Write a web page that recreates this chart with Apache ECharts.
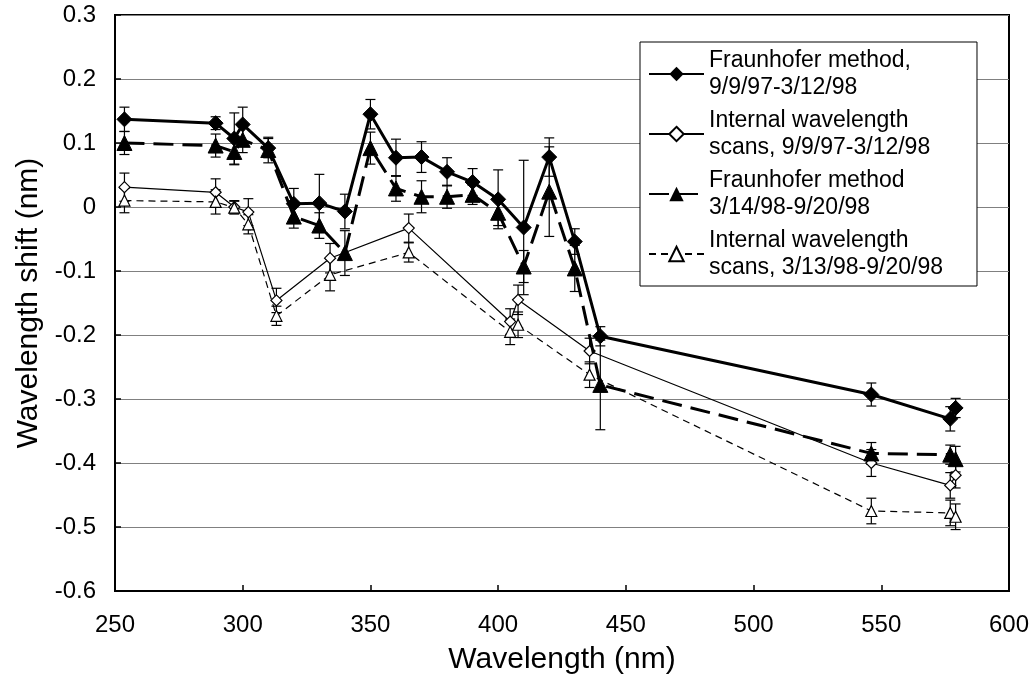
<!DOCTYPE html>
<html><head><meta charset="utf-8">
<script src="https://cdn.jsdelivr.net/npm/echarts@6/dist/echarts.min.js"></script>
<style>html,body{margin:0;padding:0;background:#fff}#c{width:1034px;height:690px}</style>
</head><body><div id="c"></div>
<script>
// Fraunhofer method wavelengths (nm)
const wlFraun = [253.7, 289.4, 296.7, 300, 310, 320, 330, 340, 350, 360, 370, 380, 390, 400, 410, 420, 430, 440, 546.1, 577.0, 579.1];
// Fraunhofer 9/9/97-3/12/98
const fraun1 = [0.137, 0.131, 0.107, 0.129, 0.092, 0.005, 0.006, -0.007, 0.145, 0.077, 0.078, 0.055, 0.039, 0.012, -0.032, 0.078, -0.054, -0.202, -0.293, -0.331, -0.314];
const fraun1Err = [0.019, 0.010, 0.040, 0.027, 0.015, 0.024, 0.045, 0.027, 0.023, 0.029, 0.024, 0.022, 0.021, 0.046, 0.105, 0.030, 0.020, 0.015, 0.018, 0.019, 0.015];
// Fraunhofer 3/14/98-9/20/98
const fraun2 = [0.100, 0.096, 0.086, 0.105, 0.089, -0.015, -0.029, -0.072, 0.092, 0.029, 0.016, 0.016, 0.019, -0.009, -0.093, 0.024, -0.096, -0.278, -0.385, -0.387, -0.394];
const fraun2Err = [0.018, 0.018, 0.020, 0.020, 0.020, 0.018, 0.020, 0.035, 0.025, 0.020, 0.025, 0.018, 0.015, 0.020, 0.025, 0.070, 0.036, 0.070, 0.017, 0.015, 0.020];
// Internal scan (Hg line) wavelengths (nm)
const wlHg = [253.7, 289.4, 296.7, 302.2, 313.2, 334.2, 365.0, 404.7, 407.8, 435.8, 546.1, 577.0, 579.1];
// Internal wavelength scans 9/9/97-3/12/98
const int1 = [0.031, 0.023, 0.000, -0.008, -0.146, -0.080, -0.033, -0.179, -0.145, -0.225, -0.400, -0.435, -0.419];
const int1Err = [0.022, 0.021, 0.010, 0.021, 0.019, 0.023, 0.022, 0.020, 0.023, 0.020, 0.021, 0.020, 0.020];
// Internal wavelength scans 3/13/98-9/20/98
const int2 = [0.010, 0.008, -0.001, -0.027, -0.170, -0.106, -0.071, -0.195, -0.184, -0.262, -0.475, -0.478, -0.484];
const int2Err = [0.019, 0.019, 0.010, 0.015, 0.015, 0.025, 0.015, 0.020, 0.020, 0.020, 0.020, 0.020, 0.020];

const seriesNames = [
  'Fraunhofer method,\n9/9/97-3/12/98',
  'Internal wavelength\nscans, 9/9/97-3/12/98',
  'Fraunhofer method\n3/14/98-9/20/98',
  'Internal wavelength\nscans, 3/13/98-9/20/98'
];

const FONT = '"Liberation Sans", Arial, sans-serif';
const LH = 27;

function pairs(xs, ys) { return xs.map((x, i) => [x, ys[i]]); }
function errData(xs, ys, es) { return xs.map((x, i) => [x, ys[i] - es[i], ys[i] + es[i]]); }

function errSeries(xs, ys, es) {
  return {
    type: 'custom',
    silent: true,
    z: 1,
    data: errData(xs, ys, es),
    renderItem: function (params, api) {
      const lo = api.coord([api.value(0), api.value(1)]);
      const hi = api.coord([api.value(0), api.value(2)]);
      const w = 5;
      const st = { stroke: '#000', lineWidth: 1.2 };
      return { type: 'group', children: [
        { type: 'line', shape: { x1: lo[0], y1: lo[1], x2: hi[0], y2: hi[1] }, style: st },
        { type: 'line', shape: { x1: lo[0] - w, y1: lo[1], x2: lo[0] + w, y2: lo[1] }, style: st },
        { type: 'line', shape: { x1: hi[0] - w, y1: hi[1], x2: hi[0] + w, y2: hi[1] }, style: st }
      ]};
    }
  };
}

const chart = echarts.init(document.getElementById('c'), null, { renderer: 'canvas' });
chart.setOption({
  animation: false,
  backgroundColor: '#fff',
  grid: { left: 115, top: 15, right: 25, bottom: 99, show: true, borderColor: '#000', borderWidth: 2, backgroundColor: 'transparent' },
  xAxis: {
    type: 'value', min: 250, max: 600, interval: 50,
    name: 'Wavelength (nm)', nameLocation: 'middle', nameGap: 54,
    nameTextStyle: { fontFamily: FONT, fontSize: 30, color: '#000' },
    axisLine: { show: true, onZero: false, lineStyle: { color: '#000', width: 2 } },
    axisTick: { show: true, inside: true, length: 6, lineStyle: { color: '#000', width: 1.5 } },
    axisLabel: { fontFamily: FONT, fontSize: 24, color: '#000', margin: 22 },
    splitLine: { show: false }
  },
  yAxis: {
    type: 'value', min: -0.6, max: 0.3, interval: 0.1,
    name: 'Wavelength shift (nm)', nameLocation: 'middle', nameGap: 71, nameRotate: 90,
    nameTextStyle: { fontFamily: FONT, fontSize: 30, color: '#000' },
    axisLine: { show: true, onZero: false, lineStyle: { color: '#000', width: 2 } },
    axisTick: { show: true, inside: true, length: 6, lineStyle: { color: '#000', width: 1.5 } },
    axisLabel: { fontFamily: FONT, fontSize: 24, color: '#000', margin: 19,
      formatter: v => (Math.abs(v) < 1e-9 ? '0' : v.toFixed(1)) },
    splitLine: { show: true, lineStyle: { color: '#808080', width: 1 } }
  },
  legend: {
    orient: 'vertical', left: 640, top: 42,
    data: seriesNames,
    backgroundColor: '#fff', borderColor: '#000', borderWidth: 1,
    padding: [7, 34, 7, 8],
    itemWidth: 55, itemHeight: 18, itemGap: 10,
    textStyle: { fontFamily: FONT, fontSize: 23, color: '#000', lineHeight: LH, padding: [0, 0, -LH, 0] }
  },
  series: [
    errSeries(wlFraun, fraun1, fraun1Err),
    errSeries(wlHg, int1, int1Err),
    errSeries(wlFraun, fraun2, fraun2Err),
    errSeries(wlHg, int2, int2Err),
    { name: seriesNames[0], type: 'line', z: 5, data: pairs(wlFraun, fraun1),
      symbol: 'diamond', symbolSize: 15, showAllSymbol: true,
      lineStyle: { color: '#000', width: 3 }, itemStyle: { color: '#000', borderColor: '#000' } },
    { name: seriesNames[1], type: 'line', z: 4, data: pairs(wlHg, int1),
      symbol: 'diamond', symbolSize: 11, showAllSymbol: true,
      lineStyle: { color: '#000', width: 1.2 }, itemStyle: { color: '#fff', borderColor: '#000', borderWidth: 1.2 } },
    { name: seriesNames[2], type: 'line', z: 5, data: pairs(wlFraun, fraun2),
      symbol: 'triangle', symbolSize: 15, showAllSymbol: true,
      lineStyle: { color: '#000', width: 3, type: [20, 9] }, itemStyle: { color: '#000', borderColor: '#000' } },
    { name: seriesNames[3], type: 'line', z: 4, data: pairs(wlHg, int2),
      symbol: 'triangle', symbolSize: 11, showAllSymbol: true,
      lineStyle: { color: '#000', width: 1.2, type: [7, 5] }, itemStyle: { color: '#fff', borderColor: '#000', borderWidth: 1.2 } }
  ]
});
</script></body></html>
